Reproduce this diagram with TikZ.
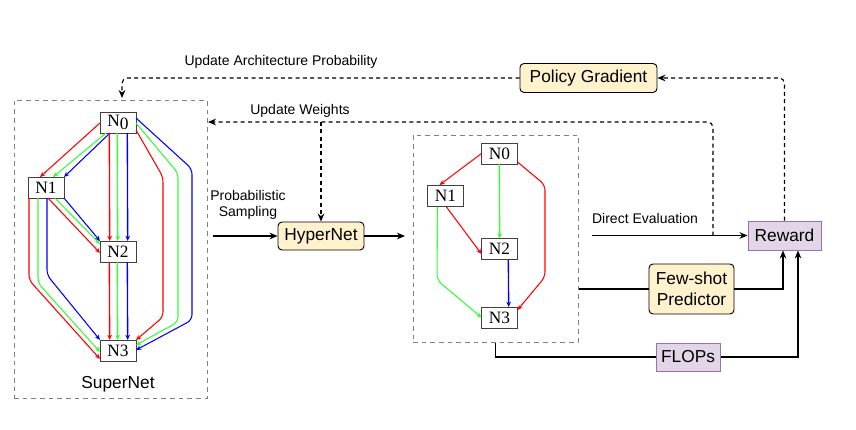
\documentclass[tikz,border=0pt]{standalone}
\usepackage{fontspec}
\setmainfont{Liberation Sans}
\usetikzlibrary{arrows.meta,calc}
\definecolor{cr}{HTML}{FF0000}
\definecolor{cg}{HTML}{33FF33}
\definecolor{cb}{HTML}{0000FF}
\definecolor{yfill}{HTML}{FFF2CC}
\definecolor{pfill}{HTML}{E1D5E7}
\definecolor{pdraw}{HTML}{9673A6}
\begin{document}
\begin{tikzpicture}[x=0.75pt,y=-0.75pt,
 nb/.style={draw=black!75, fill=white, line width=0.75pt, minimum width=27pt, minimum height=15.75pt, inner sep=0pt, font=\fontspec{Liberation Serif}\fontsize{13}{14}\selectfont},
 ybox/.style={draw=black, fill=yfill, rounded corners=3pt, line width=0.7pt, font=\fontsize{13}{15.5}\selectfont, inner sep=0pt, align=center},
 pbox/.style={draw=pdraw, fill=pfill, line width=0.75pt, font=\fontsize{13}{15.5}\selectfont, inner sep=0pt},
 lbl/.style={font=\fontsize{10.5}{12.5}\selectfont, align=center},
 ca/.style={line width=0.8pt, -{Stealth[length=4pt,width=3.5pt]}, rounded corners=4pt},
 cv/.style={ca, line width=1pt},
 ka/.style={line width=0.85pt, -{Stealth[length=6pt,width=5pt]}},
 kl/.style={line width=0.85pt},
 da/.style={line width=0.85pt, dash pattern=on 3pt off 2.5pt, -{Stealth[length=6pt,width=5pt]}, rounded corners=4pt},
 gbox/.style={draw=gray, line width=0.75pt, dash pattern=on 3.5pt off 3pt, inner sep=0pt}
]
\path[use as bounding box] (0,0) rectangle (856,429);

% containers
\node[gbox, minimum width=144.75pt, minimum height=223.5pt] (sn) at (110.5,249) {};
\node[gbox, minimum width=123.75pt, minimum height=155.25pt] (mb) at (495.5,238.5) {};
\node[font=\fontsize{13}{15}\selectfont] (snl) at (118,384) {SuperNet};

% supernet nodes
\node[nb] (a0) at (118,122.5) {N\raisebox{-0.45ex}{0}};
\node[nb] (a1) at (46,187.5) {N1};
\node[nb] (a2) at (118,251.5) {N2};
\node[nb] (a3) at (118,351) {N3};

% sampled net nodes
\node[nb] (b0) at (499.5,153.5) {N0};
\node[nb] (b1) at (445.5,196) {N1};
\node[nb] (b2) at (499.5,249) {N2};
\node[nb] (b3) at (499.5,317.5) {N3};

% other boxes
\node[ybox, minimum width=102.75pt, minimum height=21.75pt] (pg) at (588.5,78) {Policy Gradient};
\node[ybox, minimum width=64.5pt, minimum height=21pt] (hn) at (321,236) {HyperNet};
\node[ybox, minimum width=63.75pt, minimum height=37.5pt] (fs) at (691.5,289) {Few-shot\\ Predictor};
\node[pbox, minimum width=54.75pt, minimum height=21.75pt] (rw) at (784.5,235.5) {Reward};
\node[pbox, minimum width=48pt, minimum height=21pt] (fl) at (688,357) {FLOPs};

% labels
\node[lbl] (l1) at (281,62) {Update Architecture Probability};
\node[lbl] (l2) at (300,111) {Update Weights};
\node[lbl] (l3) at (248,205) {Probabilistic\\Sampling};
\node[lbl] (l4) at (645,218) {Direct Evaluation};

% supernet edges N0->N1
\draw[ca,cr] ($(a0)+(-18,0.5)$) -- ($(a1)+(-6,-10.5)$);
\draw[ca,cg] ($(a0)+(-12,10.5)$) -- ($(a1)+(7,-10.5)$);
\draw[ca,cb] ($(a0)+(-8,10.5)$) -- ($(a1)+(18,-10.5)$);
% N0->N2
\draw[cv,cr] ($(a0)+(-8.7,10.5)$) -- ($(a2)+(-8.3,-10.5)$);
\draw[cv,cg] ($(a0)+(-0.7,10.5)$) -- ($(a2)+(-0.3,-10.5)$);
\draw[cv,cb] ($(a0)+(9.3,10.5)$) -- ($(a2)+(9.7,-10.5)$);
% N2->N3
\draw[cv,cr] ($(a2)+(-8.7,10.5)$) -- ($(a3)+(-8.3,-11)$);
\draw[cv,cg] ($(a2)+(-0.7,10.5)$) -- ($(a3)+(-0.3,-11)$);
\draw[cv,cb] ($(a2)+(9.3,10.5)$) -- ($(a3)+(9.7,-11)$);
% N0->N3 right side
\draw[ca,cr] ($(a0)+(18,7.5)$) -- (163,177) -- (163,317) -- ($(a3)+(18,-11)$);
\draw[ca,cg] ($(a0)+(18,0.5)$) -- (178,173) -- (178,322) -- ($(a3)+(18,-6)$);
\draw[ca,cb] ($(a0)+(18,-4.5)$) -- (192,169) -- (192,320) -- ($(a3)+(18,-1)$);
% N1->N2
\draw[ca,cr] ($(a1)+(2,10.5)$) -- ($(a2)+(-18,1.5)$);
\draw[ca,cg] ($(a1)+(9,10.5)$) -- ($(a2)+(-18,-7.5)$);
\draw[ca,cb] ($(a1)+(18,10.5)$) -- ($(a2)+(-18,-10.5)$);
% N1->N3 left side
\draw[ca,cr] ($(a1)+(-17,10.5)$) -- (29,280) -- ($(a3)+(-18,8)$);
\draw[ca,cg] ($(a1)+(-8,10.5)$) -- (38,283) -- ($(a3)+(-18,1)$);
\draw[ca,cb] ($(a1)+(1,10.5)$) -- (47,275) -- ($(a3)+(-18,-11)$);

% sampled net edges
\draw[ca,cr] ($(b0)+(-18,0)$) -- ($(b1)+(-6,-11)$);
\draw[cv,cg] ($(b0)+(-0.2,10.5)$) -- ($(b2)+(0.2,-10.5)$);
\draw[ca,cr] ($(b0)+(18,8.5)$) -- (545,185) -- (545,277) -- ($(b3)+(18,-7.5)$);
\draw[ca,cr] ($(b1)+(1,11)$) -- ($(b2)+(-18,5)$);
\draw[ca,cg] ($(b1)+(-8,11)$) -- (437,280) -- ($(b3)+(-18,0)$);
\draw[cv,cb] ($(b2)+(8.8,10.5)$) -- ($(b3)+(9.2,-10.5)$);

% flow
\coordinate (ps) at (213,236);
\coordinate (ho) at (405,236);
\coordinate (de) at (592,235.5);
\coordinate (wc) at (713,235.5);
\coordinate (wt) at (208,122);
\coordinate (wb) at (321,122);
\coordinate (st) at (122,98);
\draw[ka] (ps) -- (hn.west);
\draw[ka] (hn.east) -- (ho);
\draw[ka] (de) -- (rw.west);
\draw[da] (wc) |- (wt);
\draw[da] (wb) -- (hn.north);
\draw[da] (rw.north) |- (pg.east);
\draw[da] (pg.west) -| (st);
\draw[kl] (mb.east |- fs.west) -- (fs.west);
\draw[ka] (fs.east) -| ($(rw.south)+(-1.5,0)$);
\draw[kl] (mb.south) |- (fl.west);
\draw[ka] (fl.east) -| ($(rw.south)+(13.5,0)$);
\end{tikzpicture}
\end{document}
